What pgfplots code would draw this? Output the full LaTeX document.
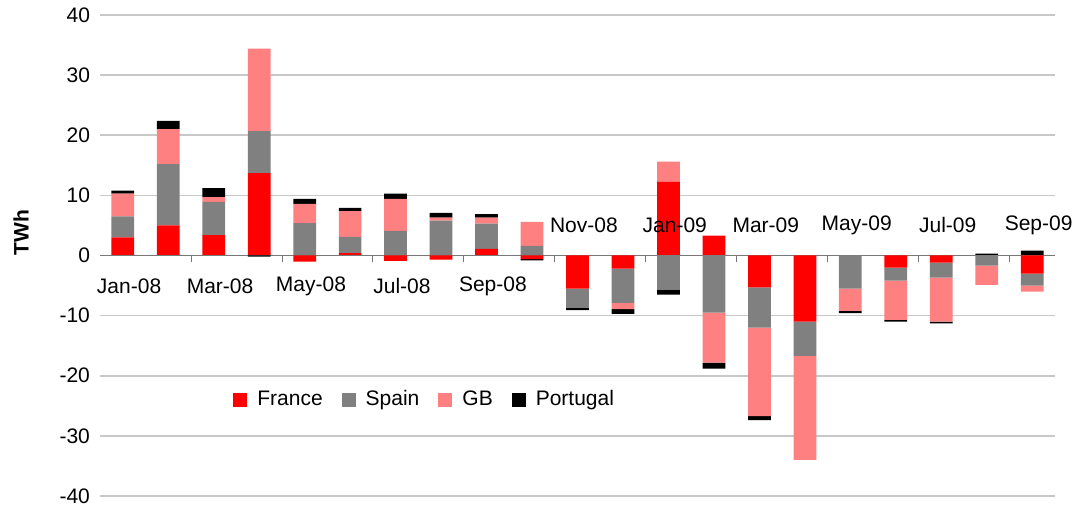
\documentclass[border=0pt]{standalone}
\usepackage{pgfplots}
\pgfplotsset{compat=1.18}
\usepackage{pgfplotstable}
\usepackage{fontspec}
\setmainfont{Liberation Sans}
\definecolor{fr}{RGB}{255,0,0}
\definecolor{es}{RGB}{128,128,128}
\definecolor{gb}{RGB}{255,128,128}
\definecolor{pt}{RGB}{0,0,0}
\definecolor{gridc}{RGB}{200,200,200}
\definecolor{axc}{RGB}{120,120,120}
\newcommand{\lab}{\fontsize{10.5}{12.6}\selectfont}

% positive parts (stacked upward)
\pgfplotstableread{
x France Spain GB Portugal
0  3.0  3.5  3.8  0.5
1  5.0  10.2 5.8  1.4
2  3.4  5.5  0.8  1.5
3  13.7 7.0  13.7 0
4  0    5.4  3.2  0.8
5  0.4  2.7  4.3  0.5
6  0    4.1  5.3  0.9
7  0    5.8  0.5  0.8
8  1.1  4.2  1.0  0.6
9  0    1.6  4.0  0
10 0    0    0    0
11 0    0    0    0
12 12.3 0    3.3  0
13 3.3  0    0    0
14 0    0    0    0
15 0    0    0    0
16 0    0    0    0
17 0    0    0    0
18 0    0    0    0
19 0    0    0    0.3
20 0    0    0    0.8
}\pos

% negative parts (stacked downward)
\pgfplotstableread{
x France Spain GB Portugal
0  0     0    0     0
1  0     0    0     0
2  0     0    0     0
3  0     0    0     -0.2
4  -1.0  0    0     0
5  0     0    0     0
6  -0.9  0    0     0
7  -0.7  0    0     0
8  0     0    0     0
9  -0.6  0    0     -0.2
10 -5.5  -3.2 0     -0.4
11 -2.2  -5.7 -1.0  -0.8
12 0     -5.7 0     -0.8
13 0     -9.5 -8.3  -1.0
14 -5.3  -6.7 -14.7 -0.7
15 -11.0 -5.7 -17.3 0
16 0     -5.5 -3.7  -0.4
17 -2.0  -2.2 -6.5  -0.3
18 -1.2  -2.5 -7.3  -0.3
19 0     -1.7 -3.2  0
20 -3.0  -2.0 -1.0  0
}\neg

\pgfplotsset{common/.style={
  width=477.5pt, height=240.5pt, scale only axis,
  xmin=-0.5, xmax=20.5, ymin=-40, ymax=40,
  ybar stacked, bar width=0.5,
}}

\begin{document}
\begin{tikzpicture}
\begin{axis}[common, name=main, clip=false,
  axis x line=middle, axis y line=left,
  x axis line style={draw=axc,-}, y axis line style={draw=none},
  xtick={-0.5,1.5,...,19.5}, xticklabels={,,,,,,,,,,,,},
  x tick style={draw=axc, thin}, tick align=outside, major tick length=3.5pt,
  ytick={-40,-30,...,40}, y tick style={draw=none},
  ymajorgrids, grid style={gridc, line width=0.8pt},
  yticklabel style={font=\lab, /pgf/number format/assume math mode=true, xshift=2pt},
  legend columns=4,
  legend image code/.code={\fill[#1] (0pt,-3.5pt) rectangle (7pt,3.5pt);},
  legend style={draw=none, fill=none, font=\lab,
    at={(axis description cs:0.341,0.2)}, anchor=center,
    /tikz/every odd column/.append style={column sep=3pt},
    /tikz/every even column/.append style={column sep=7.5pt}},
]
\addplot[fill=fr, draw=none] table[x=x,y=France]{\pos};
\addplot[fill=es, draw=none] table[x=x,y=Spain]{\pos};
\addplot[fill=gb, draw=none] table[x=x,y=GB]{\pos};
\addplot[fill=pt, draw=none] table[x=x,y=Portugal]{\pos};
\legend{France,Spain,GB,Portugal}
\node[rotate=90, font=\lab\bfseries] at (axis description cs:-0.0827,0.547) {TWh};
\end{axis}
\begin{axis}[common, hide axis, clip=false]
\addplot[fill=fr, draw=none] table[x=x,y=France]{\neg};
\addplot[fill=es, draw=none] table[x=x,y=Spain]{\neg};
\addplot[fill=gb, draw=none] table[x=x,y=GB]{\neg};
\addplot[fill=pt, draw=none] table[x=x,y=Portugal]{\neg};
\draw[axc] (axis cs:-0.5,0) -- (axis cs:20.5,0);
\node[font=\lab] at (axis cs:0.14,-5.1) {Jan-08};
\node[font=\lab] at (axis cs:2.14,-5.1) {Mar-08};
\node[font=\lab] at (axis cs:4.14,-5.1) {May-08};
\node[font=\lab] at (axis cs:6.14,-5.1) {Jul-08};
\node[font=\lab] at (axis cs:8.14,-5.1) {Sep-08};
\node[font=\lab] at (axis cs:10.14,5.0) {Nov-08};
\node[font=\lab] at (axis cs:12.14,5.0) {Jan-09};
\node[font=\lab] at (axis cs:14.14,5.0) {Mar-09};
\node[font=\lab] at (axis cs:16.14,5.0) {May-09};
\node[font=\lab] at (axis cs:18.14,5.0) {Jul-09};
\node[font=\lab] at (axis cs:20.14,5.0) {Sep-09};
\end{axis}
\pgfresetboundingbox
\path[use as bounding box] ([xshift=-50pt,yshift=-5pt]main.south west) rectangle ([xshift=18.5pt,yshift=7.5pt]main.north east);
\end{tikzpicture}
\end{document}
